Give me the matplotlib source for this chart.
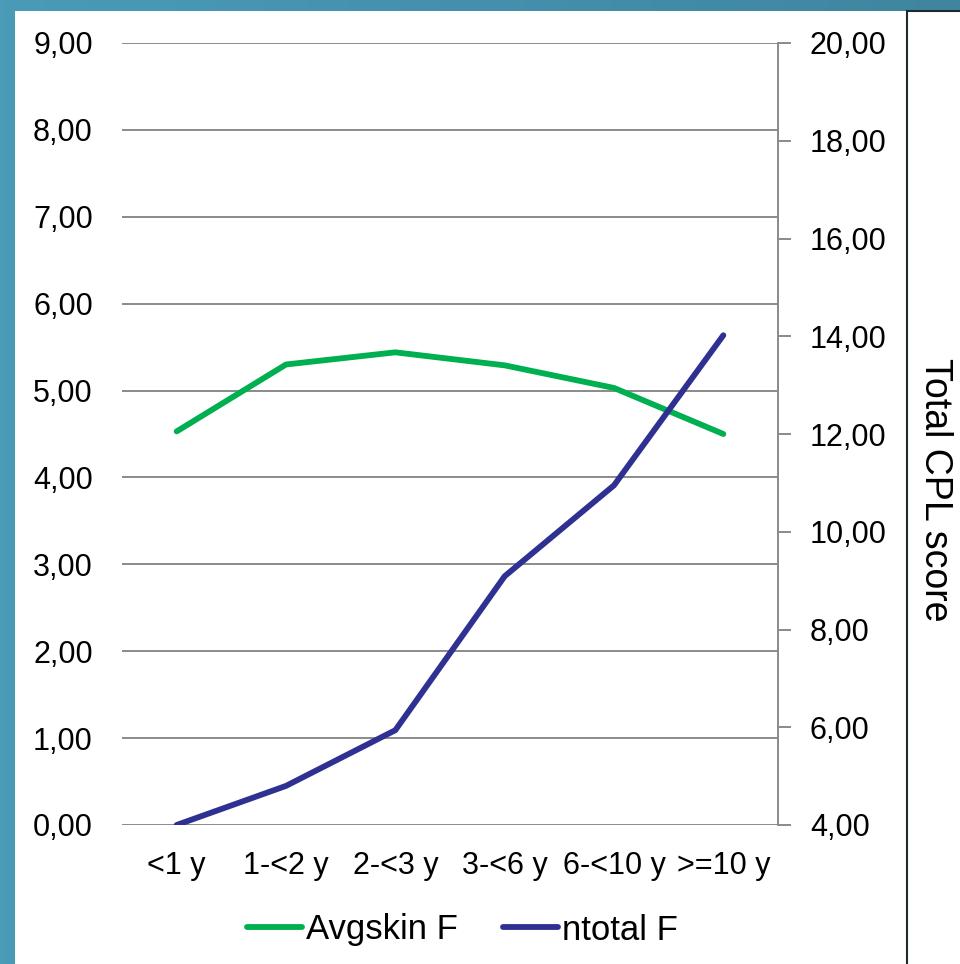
import matplotlib.pyplot as plt
import numpy as np
from matplotlib.colors import LinearSegmentedColormap
from matplotlib.patches import Rectangle
from matplotlib.lines import Line2D

plt.rcParams['font.family'] = ['Liberation Sans', 'DejaVu Sans']

# data
categories = ['<1 y', '1-<2 y', '2-<3 y', '3-<6 y', '6-<10 y', '>=10 y']
avgskin_f = [4.53, 5.30, 5.44, 5.29, 5.03, 4.50]
ntotal_f = [4.00, 4.80, 5.94, 9.09, 10.95, 14.02]

GREEN = '#00b050'
NAVY = '#2e3192'
GRID = '#8a8a8a'

fig = plt.figure(figsize=(9.6, 9.64), dpi=100)

# teal frame on the left and top edge
bg = fig.add_axes([0, 0, 1, 1], zorder=-10)
teal = LinearSegmentedColormap.from_list('teal', ['#4a9bb8', '#3f85a0'])
bg.imshow(np.linspace(0, 1, 256).reshape(1, -1), cmap=teal, aspect='auto',
          extent=[0, 1, 0, 1])
bg.add_patch(Rectangle((15 / 960, 0), 1, 1 - 11 / 964, facecolor='white',
                       edgecolor='none'))
bg.set_xlim(0, 1)
bg.set_ylim(0, 1)
bg.axis('off')

# boxed panel on the right
x_box = 907 / 960
y_top = 1 - 11 / 964
bg.add_line(Line2D([x_box, x_box], [0, y_top], color='#1c2b2b', lw=1.5))
bg.add_line(Line2D([x_box, 1], [y_top, y_top], color='#1c2b2b', lw=1.5))
fig.text(935 / 960, 1 - 490 / 964, 'Total CPL score', rotation=270,
         ha='center', va='center', fontsize=27)

ax = fig.add_axes([122 / 960, 1 - 825 / 964, 656 / 960, 782 / 964])
x = np.arange(len(categories))

ax.plot(x, avgskin_f, color=GREEN, lw=4.2, solid_capstyle='round',
        solid_joinstyle='round', label='Avgskin F', zorder=3)
ax.set_xlim(-0.5, len(categories) - 0.5)
ax.set_ylim(0, 9)
ax.set_yticks(np.arange(0, 10, 1))
ax.set_yticklabels([f'{v:.2f}'.replace('.', ',') for v in range(10)])
ax.set_xticks(x)
ax.set_xticklabels(categories)
ax.grid(axis='y', color=GRID, lw=1.4)
ax.set_axisbelow(True)
ax.tick_params(axis='y', length=0, pad=21, labelsize=22)
ax.tick_params(axis='x', length=0, pad=19, labelsize=22)
for s in ax.spines.values():
    s.set_visible(False)

ax2 = ax.twinx()
ax2.plot(x, ntotal_f, color=NAVY, lw=4.2, solid_capstyle='round',
         solid_joinstyle='round', label='ntotal F', zorder=3)
ax2.set_ylim(4, 20)
ax2.set_yticks(np.arange(4, 21, 2))
ax2.set_yticklabels([f'{v:.2f}'.replace('.', ',') for v in range(4, 21, 2)])
ax2.tick_params(axis='y', length=9, width=1.4, color=GRID, pad=14,
                labelsize=22)
for name, s in ax2.spines.items():
    s.set_visible(name == 'right')
ax2.spines['right'].set_color(GRID)
ax2.spines['right'].set_linewidth(1.4)

handles = [Line2D([0], [0], color=GREEN, lw=4.2, solid_capstyle='round'),
           Line2D([0], [0], color=NAVY, lw=4.2, solid_capstyle='round')]
fig.legend(handles, ['Avgskin F', 'ntotal F'], loc='center',
           bbox_to_anchor=(462 / 960, 1 - 930 / 964), ncol=2, frameon=False,
           fontsize=25, handlelength=1.6, handletextpad=0.1,
           columnspacing=1.3)

fig.savefig('out.png', dpi=100)
